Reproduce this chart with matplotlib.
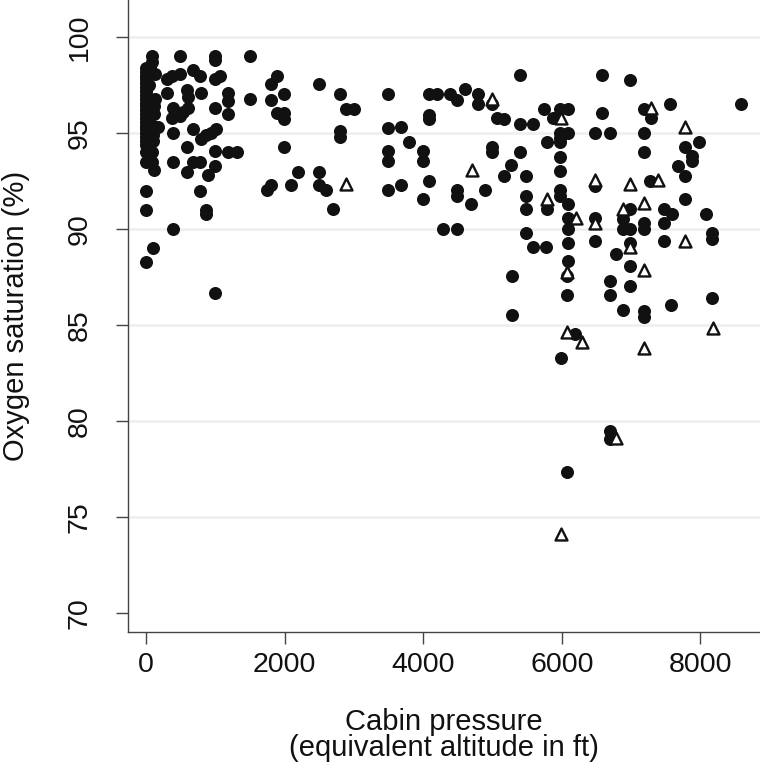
import matplotlib
matplotlib.use("Agg")
import matplotlib.pyplot as plt

plt.rcParams['font.family'] = ['Liberation Sans', 'DejaVu Sans']

# Filled circles: cabin altitude (ft), oxygen saturation (%)
circle_x = [
    0, 0, 0, 0, 0, 0, 0, 0, 0, 0, 0, 0, 0, 0, 0, 0, 0, 0, 0, 0, 0, 0, 0,
    80, 80, 60, 50, 50, 50, 50, 90, 90, 110, 130, 130, 120, 110, 130, 100, 100,
    0, 0, 100, 0,
    490, 1000, 1000, 1500,
    300, 370, 490, 680, 780, 1000, 1070,
    300, 590, 610, 800, 1190, 1190, 1500,
    390, 370, 490, 540, 610, 1000, 1190,
    180, 390, 680, 800, 870, 940, 1010,
    590, 1000, 1190, 1310,
    390, 680, 780, 590, 1000, 900,
    780, 870, 870, 390, 1000,
    1890, 1800, 1800, 1990, 1890, 1990, 1990,
    2490, 2800, 2890, 3000, 2800, 2800, 1990,
    3490, 4090, 4200, 4390, 4490, 4600, 4790, 4790, 4990,
    5060, 5170, 4090, 4090, 3490, 3680, 3790,
    3490, 3490, 3990, 3990, 4990, 4990, 5270, 5170,
    4090, 2200, 2490, 1800, 1740, 2090, 2490, 2600, 2700,
    3490, 3680, 3990, 4490, 4490, 4690, 4890, 4280, 4490,
    5390, 6580, 6980, 8580, 7560, 7180, 7290, 6580,
    5740, 5980, 6090, 5870, 5390, 5580,
    5980, 6090, 5980, 5980, 6480, 6690, 7180, 5780, 7980, 7780, 7880, 7880, 7680,
    5390, 5490, 5980, 5980, 7180, 7780, 6480, 7270, 7780,
    5490, 5490, 5780, 5980, 5980, 6090,
    6090, 6090, 6090, 6090, 6480, 6480,
    6980, 6880, 6880, 6980, 7180, 7180, 6980, 6780, 6980,
    7480, 7590, 7480, 7480, 8080, 8170, 8170, 5490, 5580, 5770,
    6070, 5280, 6690, 6690, 6990, 6070, 5280, 6880, 7180, 7180, 7570, 8170,
    6190, 5990, 6690, 6690, 6070,
]
circle_y = [
    98.4, 98.2, 98.0, 97.8, 97.6, 97.4, 97.2, 97.0, 96.8, 96.6, 96.4, 96.2, 96.0,
    95.8, 95.6, 95.4, 95.2, 95.0, 94.8, 94.6, 94.4, 94.0, 93.5,
    99.0, 98.7, 98.4, 97.5, 96.5, 95.5, 94.5, 94.0, 93.5, 93.1, 98.1, 96.8, 96.4, 96.0, 95.3, 94.9, 94.6,
    92.0, 91.0, 89.0, 88.3,
    99.0, 99.0, 98.8, 99.0,
    97.8, 98.0, 98.1, 98.3, 98.0, 97.8, 98.0,
    97.1, 97.25, 96.9, 97.1, 97.1, 96.7, 96.8,
    96.3, 95.8, 95.9, 96.1, 96.3, 96.3, 96.0,
    95.3, 95.0, 95.2, 94.7, 94.9, 95.0, 95.2,
    94.3, 94.05, 94.0, 94.0,
    93.5, 93.5, 93.5, 93.0, 93.3, 92.85,
    92.0, 91.0, 90.8, 90.0, 86.7,
    98.0, 97.55, 96.75, 97.05, 96.05, 96.05, 95.75,
    97.55, 97.05, 96.27, 96.27, 95.1, 94.8, 94.3,
    97.05, 97.05, 97.05, 97.05, 96.75, 97.3, 97.05, 96.5, 96.5,
    95.8, 95.75, 95.95, 95.75, 95.27, 95.35, 94.55,
    94.05, 93.55, 94.05, 93.55, 94.3, 94.0, 93.37, 92.76,
    92.5, 93.0, 93.0, 92.28, 92.04, 92.28, 92.28, 92.04, 91.04,
    92.04, 92.28, 91.55, 92.04, 91.73, 91.3, 92.04, 90.03, 90.03,
    98.03, 98.03, 97.77, 96.5, 96.5, 96.27, 95.8, 96.05,
    96.27, 96.27, 96.27, 95.8, 95.5, 95.5,
    95.0, 95.0, 94.75, 94.52, 95.0, 95.0, 95.0, 94.54, 94.54, 94.3, 93.8, 93.54, 93.28,
    94.03, 92.76, 93.77, 93.02, 94.03, 92.76, 92.24, 92.5, 91.55,
    91.73, 91.04, 91.04, 92.04, 91.73, 91.3,
    90.57, 90.03, 89.3, 88.35, 90.57, 89.4,
    91.07, 90.52, 90.03, 90.03, 90.34, 90.03, 89.27, 88.7, 88.1,
    91.04, 90.81, 90.31, 89.4, 90.81, 89.83, 89.48, 89.78, 89.05, 89.05,
    87.58, 87.58, 87.32, 86.55, 87.06, 86.55, 85.54, 85.79, 85.72, 85.42, 86.03, 86.41,
    84.56, 83.3, 79.47, 79.07, 77.36,
]

# Hollow triangles
tri_x = [4990, 4700, 2890, 7280, 5990, 7780, 6480, 6980, 7390, 5780, 6200, 6480,
         6880, 7180, 6980, 7180, 7780, 6070, 6070, 6290, 7180, 8180, 6780, 5990]
tri_y = [96.77, 93.07, 92.37, 96.3, 95.82, 95.35, 92.59, 92.37, 92.59, 91.58, 90.57, 90.34,
         91.07, 91.38, 89.05, 87.9, 89.4, 87.79, 84.65, 84.13, 83.82, 84.87, 79.12, 74.15]

x_ticks = [0, 2000, 4000, 6000, 8000]
y_ticks = [70, 75, 80, 85, 90, 95, 100]
grid_levels = [75, 80, 85, 90, 95, 100]

W, H = 760, 768
fig = plt.figure(figsize=(W / 100, H / 100), dpi=100)
left, bottom = 127.7 / W, (H - 631.7) / H
ax = fig.add_axes([left, bottom, 1.0 - left, 1.0 - bottom])

ax.set_xlim(-264, 8860)
ax.set_ylim(69.04, 101.94)

for g in grid_levels:
    ax.axhline(g, color='#efefef', linewidth=1.9, zorder=0)

ax.scatter(circle_x, circle_y, s=88, marker='o', color='#111111', linewidths=0, zorder=3)
ax.scatter(tri_x, tri_y, s=74, marker='^', facecolors='white', edgecolors='#111111',
           linewidths=1.7, zorder=4)

for side in ['top', 'right']:
    ax.spines[side].set_visible(False)
for side in ['left', 'bottom']:
    ax.spines[side].set_color('#444444')
    ax.spines[side].set_linewidth(1.0)

ax.set_xticks(x_ticks)
ax.set_yticks(y_ticks)
ax.set_xticklabels([str(v) for v in x_ticks])
ax.set_yticklabels([str(v) for v in y_ticks], rotation=90, va='center')
ax.tick_params(axis='both', direction='out', length=8.4, width=1.0, color='#444444',
               labelsize=20.5, labelcolor='#111111')
ax.tick_params(axis='x', pad=6)
ax.tick_params(axis='y', pad=17)

ax.set_xlabel('Cabin pressure\n(equivalent altitude in ft)', fontsize=21, color='#111111',
              labelpad=22, linespacing=0.92)
ax.set_ylabel('Oxygen saturation (%)', fontsize=21, color='#111111', labelpad=26)

fig.savefig('out.png', dpi=100)
